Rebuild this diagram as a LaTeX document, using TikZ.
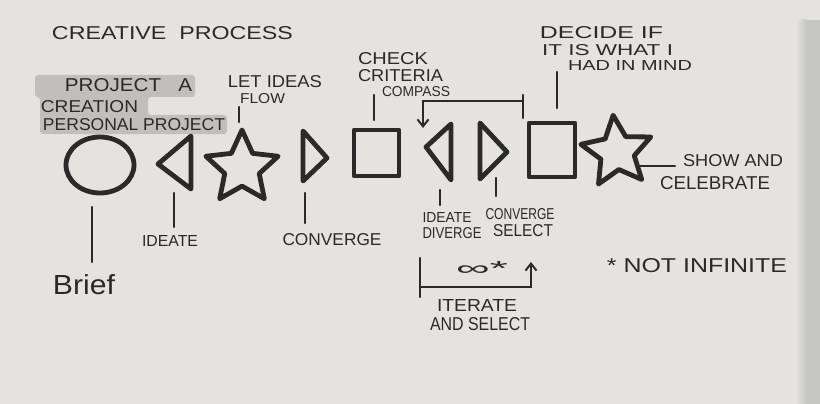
\documentclass[tikz,border=0pt]{standalone}
\usepackage{fontspec}
\setmainfont{Liberation Sans}
\usepackage{graphicx}
\usetikzlibrary{shapes.geometric,arrows.meta}
\definecolor{paper}{HTML}{E4E3E0}
\definecolor{shadowgrey}{HTML}{C6C6C5}
\definecolor{ink}{HTML}{2A2A2A}
\definecolor{hilite}{HTML}{C0BFBD}
\newcommand\hnd[3]{\resizebox{#1pt}{#2pt}{#3}}
\tikzset{
  shp/.style={draw=ink, line width=4.8pt, line join=round, inner sep=0pt, outer sep=0pt},
  tick/.style={draw=ink, line width=2.2pt, line cap=round},
  lbl/.style={inner sep=0pt, text=ink, font=\fontsize{18}{18}\selectfont},
  barb/.style={-{Straight Barb[length=7pt,width=11pt,line width=2pt]}}
}
\begin{document}
\begin{tikzpicture}[x=1pt,y=-1pt]
\useasboundingbox (0,0) rectangle (820,404);
\fill[paper] (0,0) rectangle (820,404);
\shade[left color=paper, right color=shadowgrey] (796,20) rectangle (806,404);
\fill[shadowgrey] (806,20) rectangle (820,404);

% highlight behind the project text
\fill[hilite, rounded corners=3pt] (35,75) -- (195,75) -- (195,97) -- (148,97) -- (148,115) -- (227,115)
  -- (227,134) -- (40,134) -- (40,97) -- (35,97) -- cycle;

% title
\node[lbl] (title) at (172.5,33.5) {\hnd{241}{13}{CREATIVE\ \ PROCESS}};

% shapes
\node[shp, ellipse, minimum width=68, minimum height=56] (brief) at (100,165) {};
\coordinate (i1a) at (191,136);
\coordinate (i1b) at (158,164);
\coordinate (i1c) at (191,189);
\draw[shp] (i1a) -- (i1b) -- (i1c) -- cycle;
\node[shp, star, star points=5, star point ratio=2.1, minimum size=76] (flow) at (242,168) {};
\coordinate (c1a) at (303,131);
\coordinate (c1b) at (303,181);
\coordinate (c1c) at (327,158);
\draw[shp] (c1a) -- (c1b) -- (c1c) -- cycle;
\node[shp, rectangle, minimum width=45, minimum height=46] (check) at (376.5,153) {};
\coordinate (i2a) at (451,124);
\coordinate (i2b) at (426,147);
\coordinate (i2c) at (451,180);
\draw[shp] (i2a) -- (i2b) -- (i2c) -- cycle;
\coordinate (c2a) at (480,123);
\coordinate (c2b) at (480,179);
\coordinate (c2c) at (507,152);
\draw[shp] (c2a) -- (c2b) -- (c2c) -- cycle;
\node[shp, rectangle, minimum width=46, minimum height=54] (decide) at (552,150) {};
\node[shp, star, star points=5, star point ratio=2.1, minimum size=74, rotate=6] (show) at (617,152) {};

% ticks
\coordinate (tb1) at (92,207);  \coordinate (tb2) at (92,262);
\draw[tick] (tb1) -- (tb2);
\coordinate (ti1) at (174,193); \coordinate (ti2) at (174,227);
\draw[tick] (ti1) -- (ti2);
\coordinate (tf1) at (239,107); \coordinate (tf2) at (239,122);
\draw[tick] (tf1) -- (tf2);
\coordinate (tc1) at (305,193); \coordinate (tc2) at (305,223);
\draw[tick] (tc1) -- (tc2);
\coordinate (tk1) at (374,95);  \coordinate (tk2) at (374,120);
\draw[tick] (tk1) -- (tk2);
\coordinate (td1) at (557,72);  \coordinate (td2) at (557,108);
\draw[tick] (td1) -- (td2);
\coordinate (tj1) at (440,190); \coordinate (tj2) at (440,205);
\draw[tick] (tj1) -- (tj2);
\coordinate (ts1) at (496,178); \coordinate (ts2) at (496,196);
\draw[tick] (ts1) -- (ts2);
\coordinate (tw1) at (640,166); \coordinate (tw2) at (675,166);
\draw[tick] (tw1) -- (tw2);

% loop back bracket
\coordinate (la) at (523,95);  \coordinate (lb) at (523,118);
\coordinate (lc) at (523,101); \coordinate (ld) at (423,128);
\draw[tick] (la) -- (lb);
\draw[tick, barb] (lc) -| (ld);

% iterate bracket
\coordinate (ra) at (420,258); \coordinate (rb) at (420,297);
\coordinate (rc) at (420,287); \coordinate (rd) at (531,262);
\draw[tick] (ra) -- (rb);
\draw[tick, barb] (rc) -| (rd);

% labels
\node[lbl] (projA) at (128.5,85) {\hnd{127}{13}{PROJECT\ \ \ A}};
\node[lbl] (creation) at (89.5,107) {\hnd{97}{12}{CREATION}};
\node[lbl] (personal) at (134,125) {\hnd{182}{12}{PERSONAL PROJECT}};
\node[lbl] (letideas) at (275,82) {\hnd{94}{12}{LET IDEAS}};
\node[lbl] (flowtxt) at (262.5,99) {\hnd{45}{10}{FLOW}};
\node[lbl] (checktxt) at (393,59) {\hnd{70}{12}{CHECK}};
\node[lbl] (criteria) at (400.5,76) {\hnd{85}{12}{CRITERIA}};
\node[lbl] (compass) at (416,92) {\hnd{68}{10}{COMPASS}};
\node[lbl] (decide1) at (601.5,33) {\hnd{123}{12}{DECIDE IF}};
\node[lbl] (decide2) at (607.5,50) {\hnd{131}{11}{IT IS WHAT I}};
\node[lbl] (decide3) at (630,65.5) {\hnd{124}{10}{HAD IN MIND}};
\node[lbl] (show1) at (733,160.5) {\hnd{100}{12}{SHOW AND}};
\node[lbl] (show2) at (715,183.5) {\hnd{110}{13}{CELEBRATE}};
\node[lbl] (brieftxt) at (84,285) {\hnd{62}{20}{Brief}};
\node[lbl] (ideate1) at (170,241) {\hnd{56}{11}{IDEATE}};
\node[lbl] (conv1) at (332,240) {\hnd{99}{12}{CONVERGE}};
\node[lbl] (ideate2) at (447,217) {\hnd{49}{10}{IDEATE}};
\node[lbl] (diverge) at (452,233) {\hnd{59}{11}{DIVERGE}};
\node[lbl] (conv2) at (520,214) {\hnd{69}{11}{CONVERGE}};
\node[lbl] (select) at (523,231) {\hnd{60}{12}{SELECT}};
\node[lbl] (inf) at (482,268) {\hnd{52}{14}{∞*}};
\node[lbl] (iter1) at (477,305) {\hnd{80}{12}{ITERATE}};
\node[lbl] (iter2) at (480,324) {\hnd{100}{13}{AND SELECT}};
\node[lbl] (note) at (697,266) {\hnd{180}{14}{* NOT INFINITE}};
\end{tikzpicture}
\end{document}
